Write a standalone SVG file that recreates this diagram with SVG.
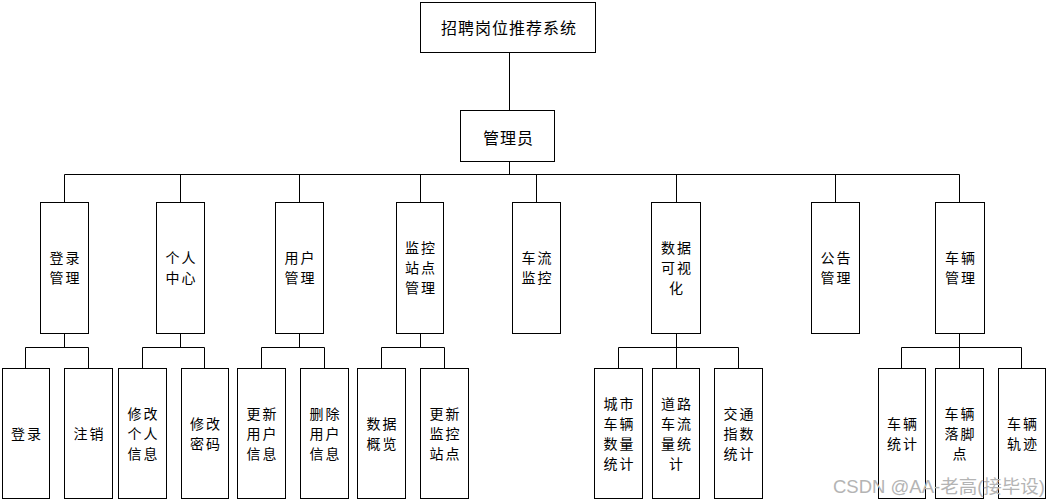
<svg xmlns="http://www.w3.org/2000/svg" width="1048" height="502" viewBox="0 0 1048 502">
<style>
rect{fill:#fff;stroke:#000;stroke-width:1}
text{font-family:"SimSun","Noto Sans CJK SC",sans-serif;font-size:14px;letter-spacing:2px;fill:#000;text-anchor:middle;dominant-baseline:central}
#connectors path{fill:none;stroke:#000;stroke-width:1}
.t{font-size:16px;letter-spacing:1px}
.wm{font-family:"Liberation Sans","Noto Sans CJK SC",sans-serif;font-size:18.5px;letter-spacing:0;fill:#b4b4b4;text-anchor:start;dominant-baseline:auto}
</style>
<rect x="0" y="0" width="1048" height="502" style="stroke:none"/>
<g id="connectors">
<path d="M509.5 53V110M509.5 162V174.5M64.5 174.5H959.5M64.5 174.5V202M180.5 174.5V202M299.5 174.5V202M420.5 174.5V202M536.5 174.5V202M676.5 174.5V202M835.5 174.5V202M959.5 174.5V202"/>
<path d="M64.5 333V347.5M25.5 347.5H88.5M25.5 347.5V368M88.5 347.5V368"/>
<path d="M180.5 333V347.5M142.5 347.5H204.5M142.5 347.5V368M204.5 347.5V368"/>
<path d="M299.5 333V347.5M261.5 347.5H324.5M261.5 347.5V368M324.5 347.5V368"/>
<path d="M420.5 333V347.5M381.5 347.5H444.5M381.5 347.5V368M444.5 347.5V368"/>
<path d="M676.5 333V347.5M618.5 347.5H738.5M618.5 347.5V368M676.5 347.5V368M738.5 347.5V368"/>
<path d="M959.5 333V347.5M901.5 347.5H1021.5M901.5 347.5V368M959.5 347.5V368M1021.5 347.5V368"/>
</g>
<g id="root"><rect x="420.5" y="2.5" width="175" height="50"/><text class="t" x="509" y="27">招聘岗位推荐系统</text></g>
<g id="admin"><rect x="460.5" y="110.5" width="94" height="51"/><text class="t" x="508.5" y="137">管理员</text></g>

<g id="n-login-mgmt"><rect x="40.5" y="202.5" width="48" height="131"/><text x="65.5" y="257">登录</text><text x="65.5" y="277">管理</text></g>
<g id="n-personal"><rect x="156.5" y="202.5" width="48" height="131"/><text x="181.5" y="257">个人</text><text x="181.5" y="277">中心</text></g>
<g id="n-user-mgmt"><rect x="275.5" y="202.5" width="48" height="131"/><text x="300.5" y="257">用户</text><text x="300.5" y="277">管理</text></g>
<g id="n-station-mgmt"><rect x="396.5" y="202.5" width="47" height="131"/><text x="421" y="247">监控</text><text x="421" y="267">站点</text><text x="421" y="287">管理</text></g>
<g id="n-traffic"><rect x="512.5" y="202.5" width="48" height="131"/><text x="537.5" y="257">车流</text><text x="537.5" y="277">监控</text></g>
<g id="n-visual"><rect x="651.5" y="202.5" width="49" height="131"/><text x="677" y="247">数据</text><text x="677" y="267">可视</text><text x="677" y="287">化</text></g>
<g id="n-notice"><rect x="811.5" y="202.5" width="48" height="131"/><text x="836.5" y="257">公告</text><text x="836.5" y="277">管理</text></g>
<g id="n-vehicle-mgmt"><rect x="935.5" y="202.5" width="49" height="131"/><text x="961" y="257">车辆</text><text x="961" y="277">管理</text></g>

<g id="n-login"><rect x="2.5" y="368.5" width="47" height="130"/><text x="27" y="433">登录</text></g>
<g id="n-logout"><rect x="64.5" y="368.5" width="48" height="130"/><text x="89.5" y="433">注销</text></g>
<g id="n-edit-info"><rect x="118.5" y="368.5" width="48" height="130"/><text x="143.5" y="413">修改</text><text x="143.5" y="433">个人</text><text x="143.5" y="453">信息</text></g>
<g id="n-edit-pwd"><rect x="181.5" y="368.5" width="47" height="130"/><text x="206" y="423">修改</text><text x="206" y="443">密码</text></g>
<g id="n-update-user"><rect x="237.5" y="368.5" width="48" height="130"/><text x="262.5" y="413">更新</text><text x="262.5" y="433">用户</text><text x="262.5" y="453">信息</text></g>
<g id="n-delete-user"><rect x="300.5" y="368.5" width="48" height="130"/><text x="325.5" y="413">删除</text><text x="325.5" y="433">用户</text><text x="325.5" y="453">信息</text></g>
<g id="n-overview"><rect x="357.5" y="368.5" width="48" height="130"/><text x="382.5" y="423">数据</text><text x="382.5" y="443">概览</text></g>
<g id="n-update-station"><rect x="420.5" y="368.5" width="48" height="130"/><text x="445.5" y="413">更新</text><text x="445.5" y="433">监控</text><text x="445.5" y="453">站点</text></g>
<g id="n-city-stats"><rect x="594.5" y="368.5" width="48" height="130"/><text x="619.5" y="403">城市</text><text x="619.5" y="423">车辆</text><text x="619.5" y="443">数量</text><text x="619.5" y="463">统计</text></g>
<g id="n-road-stats"><rect x="652.5" y="368.5" width="47" height="130"/><text x="677" y="403">道路</text><text x="677" y="423">车流</text><text x="677" y="443">量统</text><text x="677" y="463">计</text></g>
<g id="n-index-stats"><rect x="714.5" y="368.5" width="48" height="130"/><text x="739.5" y="413">交通</text><text x="739.5" y="433">指数</text><text x="739.5" y="453">统计</text></g>
<g id="n-vehicle-stats"><rect x="878.5" y="368.5" width="47" height="130"/><text x="903" y="423">车辆</text><text x="903" y="443">统计</text></g>
<g id="n-vehicle-stop"><rect x="935.5" y="368.5" width="48" height="130"/><text x="960.5" y="413">车辆</text><text x="960.5" y="433">落脚</text><text x="960.5" y="453">点</text></g>
<g id="n-vehicle-track"><rect x="998.5" y="368.5" width="47" height="130"/><text x="1023" y="423">车辆</text><text x="1023" y="443">轨迹</text></g>

<text class="wm" x="833" y="493">CSDN @AA-老高(接毕设)</text>
</svg>
